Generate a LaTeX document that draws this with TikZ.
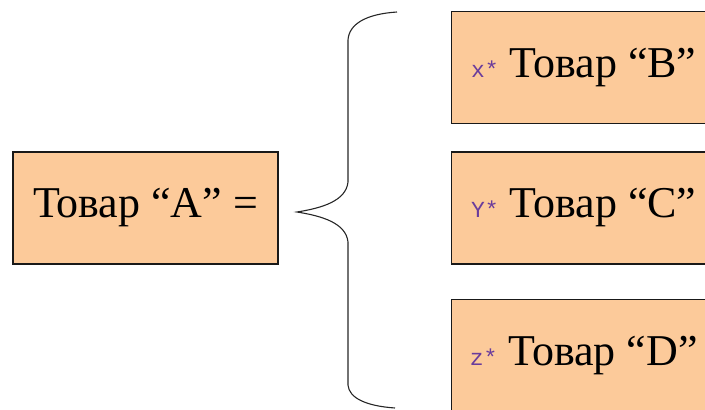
\documentclass[tikz,border=0pt]{standalone}
\usepackage{fontspec}
\setmainfont{Liberation Serif}
\newfontfamily\coeffont{Liberation Mono}
\usetikzlibrary{positioning}
\definecolor{peach}{HTML}{FCCA9A}
\definecolor{coefpurple}{HTML}{6A3C9C}
\newcommand{\coef}[1]{{\coeffont\fontsize{23}{23}\selectfont\color{coefpurple}#1}}

\begin{document}
\begin{tikzpicture}[
        x=1pt, y=-1pt,
        box/.style={rectangle, draw=black!90, line width=1.3pt, fill=peach, minimum width=265pt, minimum height=112pt, text centered, font=\fontsize{44}{48}\selectfont},
        brace/.style={draw=black!85, line width=1.1pt}
        ]

        \useasboundingbox (0,0) rectangle (705,410);
        \clip (0,0) rectangle (705,410);

        % Nodes
        \node[box] (goodA) at (145.5,208) {Товар “A” =};
        \node[box, right=172pt of goodA] (goodC) {\coef{Y*} Товар “C”};
        \node[box, above=27pt of goodC] (goodB) {\coef{x*} Товар “B”};
        \node[box, below=34pt of goodC] (goodD) {\coef{z*} Товар “D”};

        % Brace
        \coordinate (tip) at (297,212);
        \coordinate (top) at (397,12);
        \coordinate (bot) at (395,408);
        \draw[brace] (top) .. controls (366,14) and (349,24) .. (348,40) -- (348,182)
            .. controls (346,201) and (322,208) .. (tip)
            .. controls (322,216) and (346,223) .. (348,242) -- (348,385)
            .. controls (349,398) and (366,406) .. (bot);

    \end{tikzpicture}
\end{document}
